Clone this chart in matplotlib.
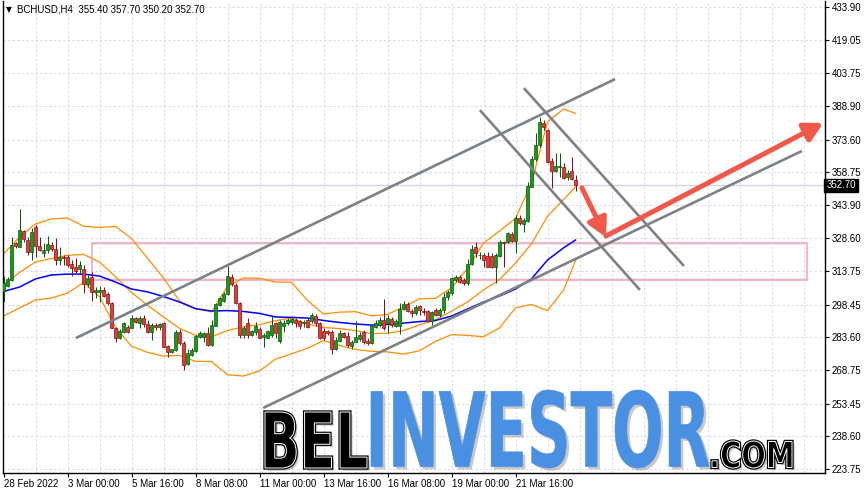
import numpy as np
import matplotlib
matplotlib.use('Agg')
import matplotlib.pyplot as plt
import matplotlib.patheffects as pe
from matplotlib.patches import Rectangle, PathPatch, FancyArrowPatch
from matplotlib.textpath import TextPath
from matplotlib.font_manager import FontProperties
from matplotlib.transforms import Affine2D, IdentityTransform

# BCHUSD H4 candles (one per 4 hours, from 28 Feb 08:00)
opens = [304.7, 307.1, 309.7, 326.4, 324.9, 332.0, 327.9, 322.6, 334.0, 325.2,
         322.1, 323.4, 325.6, 323.8, 318.8, 320.3, 320.3, 316.8, 315.7, 314.6,
         314.6, 307.8, 311.2, 304.1, 304.1, 305.2, 303.2, 299.4, 288.0, 283.2,
         286.2, 288.2, 288.0, 292.3, 290.0, 292.3, 289.6, 286.0, 289.2, 288.3,
         290.1, 279.7, 277.0, 277.9, 286.2, 281.2, 271.4, 275.6, 277.5, 283.9,
         283.8, 285.4, 280.2, 288.9, 298.3, 300.2, 303.2, 311.2, 307.4, 299.1,
         284.7, 290.0, 284.7, 286.2, 287.4, 283.9, 283.5, 284.7, 290.0, 282.0,
         289.0, 290.0, 290.5, 291.5, 291.1, 290.0, 291.5, 291.1, 293.3, 290.0,
         286.5, 286.5, 286.2, 278.3, 282.0, 285.7, 284.2, 279.8, 281.6, 282.7,
         286.2, 282.0, 280.9, 288.5, 289.2, 291.5, 290.0, 292.0, 288.9, 288.9,
         296.5, 298.8, 295.6, 294.5, 298.0, 295.6, 295.6, 291.1, 296.1, 293.8,
         296.1, 302.1, 303.7, 309.7, 311.2, 309.7, 308.2, 317.0, 324.9, 320.9,
         321.1, 320.6, 320.6, 315.7, 320.6, 327.1, 327.1, 330.6, 327.6, 337.8,
         335.2, 336.7, 352.1, 364.6, 371.1, 381.3, 377.9, 364.0, 359.4, 361.1,
         361.3, 356.4, 359.4, 355.4]
highs = [311.5, 311.2, 329.4, 327.1, 342.0, 332.5, 329.4, 333.2, 334.7, 329.4,
         326.4, 329.7, 327.1, 328.9, 324.9, 321.1, 321.1, 318.8, 319.6, 318.4,
         316.5, 312.0, 313.5, 306.7, 307.0, 306.7, 304.1, 299.9, 288.5, 287.4,
         290.7, 289.2, 293.8, 293.0, 293.3, 293.8, 291.5, 290.0, 290.1, 290.3,
         290.7, 280.2, 278.3, 287.0, 287.4, 281.9, 278.2, 278.8, 284.7, 286.5,
         286.2, 288.5, 291.5, 299.2, 302.1, 304.3, 316.2, 312.3, 308.3, 299.9,
         288.9, 292.3, 287.0, 290.7, 288.5, 285.4, 287.0, 293.3, 290.7, 291.5,
         291.5, 292.3, 292.3, 292.3, 291.5, 291.5, 292.3, 294.5, 294.1, 290.5,
         287.7, 287.0, 287.0, 283.9, 287.0, 286.2, 286.2, 282.4, 291.1, 286.2,
         287.0, 283.2, 289.2, 291.5, 293.0, 301.1, 293.8, 292.9, 292.0, 299.4,
         300.2, 299.9, 296.5, 298.3, 298.3, 296.8, 296.1, 295.6, 297.0, 297.0,
         303.7, 305.2, 311.2, 312.0, 312.0, 310.5, 319.1, 325.6, 327.1, 322.6,
         322.1, 322.6, 321.8, 321.8, 327.9, 327.6, 331.7, 331.7, 339.3, 339.3,
         337.8, 354.4, 366.1, 376.4, 383.7, 382.5, 378.3, 365.1, 367.3, 367.3,
         362.8, 359.7, 365.5, 357.7]
lows = [299.7, 306.7, 309.3, 324.1, 324.6, 327.1, 321.1, 318.8, 320.1, 322.9,
        320.1, 321.8, 322.9, 316.5, 316.5, 316.5, 315.7, 311.5, 312.8, 312.8,
        303.7, 306.7, 300.2, 301.4, 299.9, 302.1, 298.3, 287.7, 281.6, 282.9,
        285.4, 285.4, 287.7, 290.0, 288.0, 288.5, 285.4, 282.4, 287.0, 287.0,
        279.2, 274.7, 276.5, 277.4, 280.2, 268.8, 271.0, 275.1, 277.1, 283.3,
        281.6, 279.7, 279.8, 288.8, 297.9, 299.7, 303.0, 307.1, 298.8, 283.3,
        283.2, 283.2, 284.2, 284.7, 283.2, 279.4, 283.2, 283.9, 283.2, 280.9,
        286.0, 289.2, 289.7, 288.5, 287.3, 288.5, 287.7, 290.0, 288.9, 282.9,
        282.4, 284.7, 275.9, 277.9, 281.6, 283.2, 279.4, 278.3, 281.4, 282.0,
        280.5, 280.2, 280.5, 287.7, 288.5, 287.0, 285.4, 288.3, 288.3, 285.0,
        296.1, 295.0, 293.0, 293.8, 293.8, 293.8, 290.5, 289.2, 293.3, 292.9,
        294.5, 300.6, 302.9, 308.9, 308.2, 307.4, 307.4, 316.5, 320.3, 319.1,
        315.7, 315.5, 315.0, 308.2, 320.3, 315.7, 326.4, 327.1, 322.1, 334.7,
        331.7, 336.2, 351.9, 364.0, 370.3, 377.9, 362.8, 351.4, 359.0, 356.7,
        355.5, 355.2, 355.2, 350.2]
closes = [308.3, 310.2, 325.6, 325.3, 332.5, 328.2, 322.6, 331.7, 325.3, 323.4,
          323.4, 326.0, 323.8, 318.7, 320.3, 319.9, 316.5, 315.3, 313.8, 316.5,
          307.9, 310.5, 304.4, 305.2, 305.2, 302.6, 299.1, 288.0, 283.2, 286.5,
          290.0, 286.2, 292.3, 290.5, 292.3, 289.6, 285.9, 289.2, 288.3, 289.7,
          279.4, 277.0, 278.3, 286.2, 280.9, 271.0, 276.6, 277.9, 284.2, 285.4,
          285.6, 280.2, 289.2, 298.8, 301.5, 303.3, 311.7, 307.8, 299.1, 284.7,
          287.7, 284.7, 286.5, 288.9, 283.5, 284.7, 286.5, 289.2, 285.4, 290.7,
          290.3, 291.5, 291.8, 290.0, 288.9, 290.7, 288.5, 293.8, 290.0, 283.5,
          283.5, 285.4, 278.3, 282.4, 285.7, 283.9, 280.2, 281.6, 283.9, 284.7,
          281.6, 280.9, 288.8, 290.0, 291.5, 288.0, 292.3, 289.2, 291.1, 296.5,
          298.8, 295.6, 294.5, 297.5, 296.1, 295.3, 291.1, 295.0, 293.8, 296.1,
          302.1, 304.4, 310.5, 311.2, 308.9, 308.2, 317.0, 323.8, 321.8, 321.3,
          318.8, 315.7, 315.7, 321.1, 327.1, 326.4, 330.9, 327.6, 337.8, 335.5,
          337.0, 352.5, 364.6, 371.1, 381.7, 379.4, 363.5, 359.4, 361.6, 361.4,
          356.0, 358.5, 355.5, 352.7]

# indicator lines read every 4th candle
ind_idx = [0, 4, 8, 12, 16, 20, 24, 28, 32, 36, 40, 44, 48, 52, 56, 60, 64, 68, 72,
           76, 80, 84, 88, 92, 96, 100, 104, 108, 112, 116, 120, 124, 128, 132,
           136, 140, 143]
bb_upper = [321.5, 329.3, 335.2, 337.5, 337.9, 334.2, 333.6, 334.1, 328.6, 319.7,
            310.6, 300.2, 296.5, 295.2, 306.8, 310.6, 310.5, 308.8, 308.7, 300.4,
            294.2, 295.1, 295.3, 293.4, 294.0, 297.5, 301.1, 301.4, 306.1, 314.9,
            326.5, 332.0, 337.7, 353.8, 381.6, 387.5, 385.5]
bb_mid = [307.4, 313.1, 317.9, 319.5, 320.9, 321.4, 317.9, 311.2, 304.1, 298.2,
          292.9, 287.7, 284.6, 283.9, 286.7, 288.4, 289.4, 291.2, 292.4, 289.6,
          288.1, 287.6, 286.7, 285.3, 285.5, 286.7, 289.3, 291.6, 295.5, 299.7,
          305.2, 309.9, 317.4, 326.2, 338.7, 346.3, 352.0]
bb_lower = [293.3, 297.0, 300.6, 301.5, 303.8, 308.5, 302.2, 288.2, 279.6, 276.8,
            275.1, 275.4, 272.7, 272.6, 266.6, 266.0, 268.4, 273.7, 276.1, 278.7,
            282.1, 280.0, 278.1, 277.3, 277.0, 276.0, 277.5, 281.8, 284.9, 284.5,
            283.9, 287.9, 297.0, 298.6, 295.8, 305.1, 318.5]
ma_blue = [304.5, 306.5, 310.2, 312.0, 312.4, 312.4, 311.5, 308.8, 305.6, 304.3,
           302.2, 299.7, 296.7, 295.6, 295.8, 295.4, 294.5, 292.9, 292.7, 292.4,
           291.3, 290.4, 289.7, 289.2, 289.5, 290.1, 290.8, 291.3, 293.3, 296.5,
           299.7, 302.4, 305.6, 310.2, 318.8, 324.3, 327.9]

tick_labels = ['28 Feb 2022', '3 Mar 00:00', '5 Mar 16:00', '8 Mar 08:00', '11 Mar 00:00',
               '13 Mar 16:00', '16 Mar 08:00', '19 Mar 00:00', '21 Mar 16:00']
price_ticks = [433.90, 419.05, 403.75, 388.90, 373.60, 358.75, 343.90, 328.60,
               313.75, 298.45, 283.60, 268.75, 253.45, 238.60, 223.75]
last_price = 352.70

W, H = 866, 493
lab_font = ['Liberation Sans', 'DejaVu Sans']
lab_size = 7

fig = plt.figure(figsize=(W / 100, H / 100), dpi=100)
ax = fig.add_axes([3 / W, 20 / H, 822 / W, 472 / H])
ax.set_xlim(-0.125, 205.375)
ax.set_ylim(221.91, 436.63)

# grid
grid_kw = dict(color='#d8d8f0', lw=0.75, dashes=(2.2, 2.2), zorder=0)
for p in price_ticks:
    ax.axhline(p, **grid_kw)
for gx in range(8, 206, 8):
    ax.axvline(gx, **grid_kw)
ax.axhline(last_price, color='#cfcfe6', lw=0.9, zorder=0.5)

# support zone
ax.add_patch(Rectangle((22.1, 309.6), 178.8, 16.8, fill=False, ec='#f4a3b6', lw=1.1, zorder=1))
ax.plot([22.4, 200.6], [325.9, 325.9], color='#e8e8ee', lw=1.5, zorder=0.8)
ax.plot([22.4, 200.6], [310.1, 310.1], color='#e8e8ee', lw=1.5, zorder=0.8)

# bollinger bands + moving average
ax.plot(ind_idx, bb_upper, color='#ff8c00', lw=0.9, zorder=2)
ax.plot(ind_idx, bb_mid, color='#ff8c00', lw=0.9, zorder=2)
ax.plot(ind_idx, bb_lower, color='#ff8c00', lw=0.9, zorder=2)
ax.plot(ind_idx, ma_blue, color='#0000ff', lw=1.1, zorder=2)

# candles
o = np.array(opens); h = np.array(highs); l = np.array(lows); c = np.array(closes)
x = np.arange(len(o))
up = c >= o
wick_col = np.where(up, '#0a5a0a', '#8a1010')
ax.vlines(x, l, h, colors=wick_col, lw=0.75, zorder=3)
body_h = np.maximum(np.abs(c - o), 0.35)
ax.bar(x[up], body_h[up], bottom=np.minimum(o, c)[up], width=0.72,
       color='#1c961c', edgecolor='#0a5a0a', lw=0.5, zorder=4)
ax.bar(x[~up], body_h[~up], bottom=np.minimum(o, c)[~up], width=0.72,
       color='#e23a35', edgecolor='#8a1010', lw=0.5, zorder=4)

# trend lines
tl_kw = dict(color='#7d8287', lw=1.9, solid_capstyle='butt', zorder=5)
ax.plot([18.1, 152.9], [283.3, 401.1], **tl_kw)
ax.plot([64.9, 199.6], [251.5, 368.4], **tl_kw)
ax.plot([119.1, 159.1], [387.0, 305.2], **tl_kw)
ax.plot([130.1, 170.1], [397.0, 316.1], **tl_kw)

# forecast arrows
shadow = [pe.SimplePatchShadow(offset=(1.5, -1.5), shadow_rgbFace='#555555', alpha=0.35), pe.Normal()]
for a, b in [((144.6, 351.6), (150.6, 329.2)), ((150.6, 329.7), (204.9, 381.1))]:
    arr = FancyArrowPatch(a, b, arrowstyle='-|>,head_length=0.55,head_width=0.3',
                          mutation_scale=20, color='#f2584a', lw=3.6,
                          shrinkA=0, shrinkB=0, zorder=6)
    arr.set_path_effects(shadow)
    ax.add_patch(arr)

# axes styling
for s in ['left', 'right', 'bottom']:
    ax.spines[s].set_color('black')
    ax.spines[s].set_linewidth(1.0)
ax.spines['top'].set_visible(False)
ax.yaxis.tick_right()
ax.set_yticks(price_ticks)
ax.set_yticklabels([f'{p:.2f}' for p in price_ticks], fontfamily=lab_font, fontsize=lab_size)
ax.tick_params(axis='y', length=3, width=0.8, pad=2)
ax.set_xticks(range(0, 129, 16))
ax.set_xticklabels(tick_labels, fontfamily=lab_font, fontsize=lab_size, ha='left')
ax.tick_params(axis='x', length=3, width=0.8, pad=1.5)

ax.text(1.0015, last_price, f'{last_price:.2f}', transform=ax.get_yaxis_transform(),
        color='white', fontsize=lab_size, fontfamily=lab_font, va='center', ha='left',
        bbox=dict(boxstyle='square,pad=0.2', fc='black', ec='black'), zorder=10)

# header
fig.text(6 / W, 1 - 10 / H, '\u25bc', fontsize=5.5, va='center', ha='left')
fig.text(17 / W, 1 - 10 / H, 'BCHUSD,H4  355.40 357.70 350.20 352.70',
         fontsize=lab_size, fontfamily=lab_font, va='center', ha='left')

# watermark logo
logo_fp = FontProperties(family=['DejaVu Sans'], weight='bold')


def word_path(txt, x0, x1, ytop, ybot):
    tp = TextPath((0, 0), txt, size=100, prop=logo_fp)
    bb = tp.get_extents()
    tr = (Affine2D().translate(-bb.x0, -bb.y0)
          .scale((x1 - x0) / bb.width, (ybot - ytop) / bb.height)
          .translate(x0, H - ybot))
    return tr.transform_path(tp)


logo_shadow = [pe.SimplePatchShadow(offset=(2, -2), shadow_rgbFace='#666666', alpha=0.35), pe.Normal()]
for txt, box in [('BEL', (265, 367, 412, 468)), ('.COM', (712, 792, 441, 468))]:
    pth = word_path(txt, *box)
    p1 = PathPatch(pth, transform=IdentityTransform(), fc='black', ec='black', lw=2.4, zorder=20)
    p1.set_path_effects(logo_shadow)
    fig.add_artist(p1)
    fig.add_artist(PathPatch(pth, transform=IdentityTransform(), fc='none', ec='white', lw=0.7, zorder=21))
pth = word_path('INVESTOR', 371, 709, 390, 468)
p2 = PathPatch(pth, transform=IdentityTransform(), fc='#4a90e2', ec='#4a90e2', lw=0.5, zorder=20)
p2.set_path_effects(logo_shadow)
fig.add_artist(p2)

fig.savefig('out.png', dpi=100, facecolor='white')
